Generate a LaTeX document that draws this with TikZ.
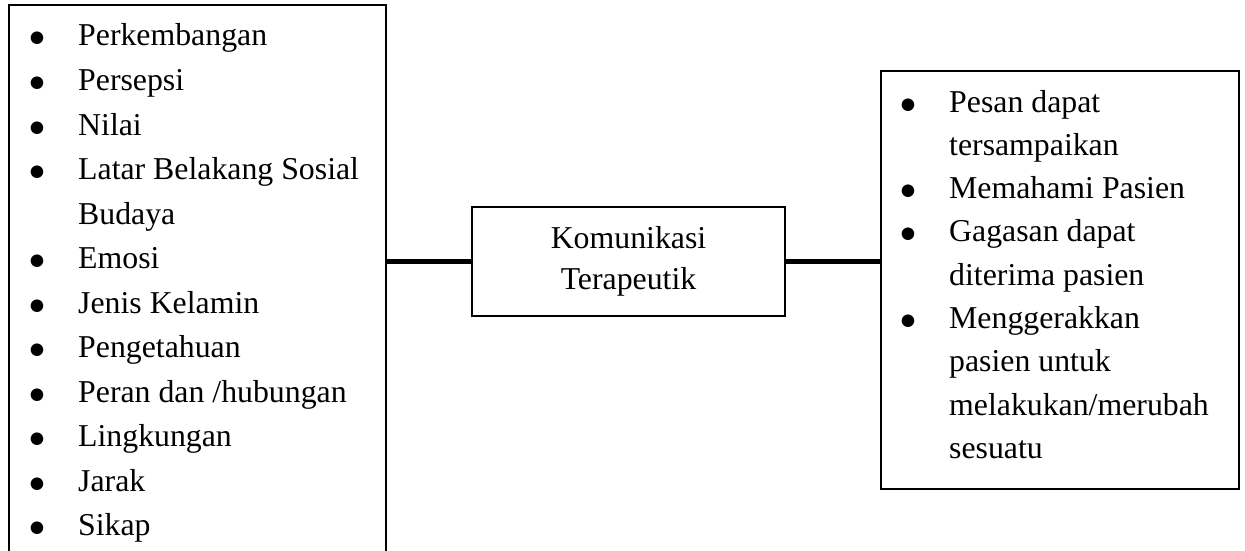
\documentclass[tikz,border=0pt]{standalone}
\usepackage{fontspec}
\setmainfont{Liberation Serif}
\newfontfamily\dotfont{DejaVu Sans}
\usepackage{tikz}
\usetikzlibrary{positioning,fit,calc}

\begin{document}
\begin{tikzpicture}[
  x=1pt, y=-1pt,
  every node/.style={font=\fontsize{31.8}{41}\selectfont},
  box/.style={draw=black, line width=2pt, inner sep=0pt},
  core/.style={box, minimum width=313pt, minimum height=109pt, align=center},
  item/.style={anchor=base west, inner sep=0pt},
  dot/.style={anchor=base, inner sep=0pt, font=\dotfont\fontsize{16.5}{16.5}\selectfont},
  link/.style={draw=black, line width=4.5pt}
]
\path[use as bounding box, clip] (0,0) rectangle (1245,551);

% boxes
\node[box, fit={(9,5) (386,620)}]    (faktor) {};
\node[box, fit={(881,71) (1239,489)}] (hasil)  {};
\node[core] (kt) at (628.5,261.5) {Komunikasi\\Terapeutik};

% left list
\foreach \t [count=\i] in {Perkembangan, Persepsi, Nilai, Latar Belakang Sosial,
    Budaya, Emosi, Jenis Kelamin, Pengetahuan, {Peran dan /hubungan},
    Lingkungan, Jarak, Sikap}
  \node[item] (f\i) at (78,{46+44.5*(\i-1)}) {\t};
\foreach \i in {1,2,3,4,6,7,8,9,10,11,12}
  \node[dot] (fb\i) at (37,{43+44.5*(\i-1)}) {●};

% right list
\foreach \t [count=\i] in {Pesan dapat, tersampaikan, Memahami Pasien,
    Gagasan dapat, diterima pasien, Menggerakkan, pasien untuk,
    {melakukan/merubah}, sesuatu}
  \node[item] (h\i) at (949,{112+43.3*(\i-1)}) {\t};
\foreach \i in {1,3,4,6}
  \node[dot] (hb\i) at (908,{109+43.3*(\i-1)}) {●};

% connectors
\draw[link] (kt.west -| faktor.east) -- (kt.west);
\draw[link] (kt.east) -- (kt.east -| hasil.west);
\end{tikzpicture}
\end{document}
